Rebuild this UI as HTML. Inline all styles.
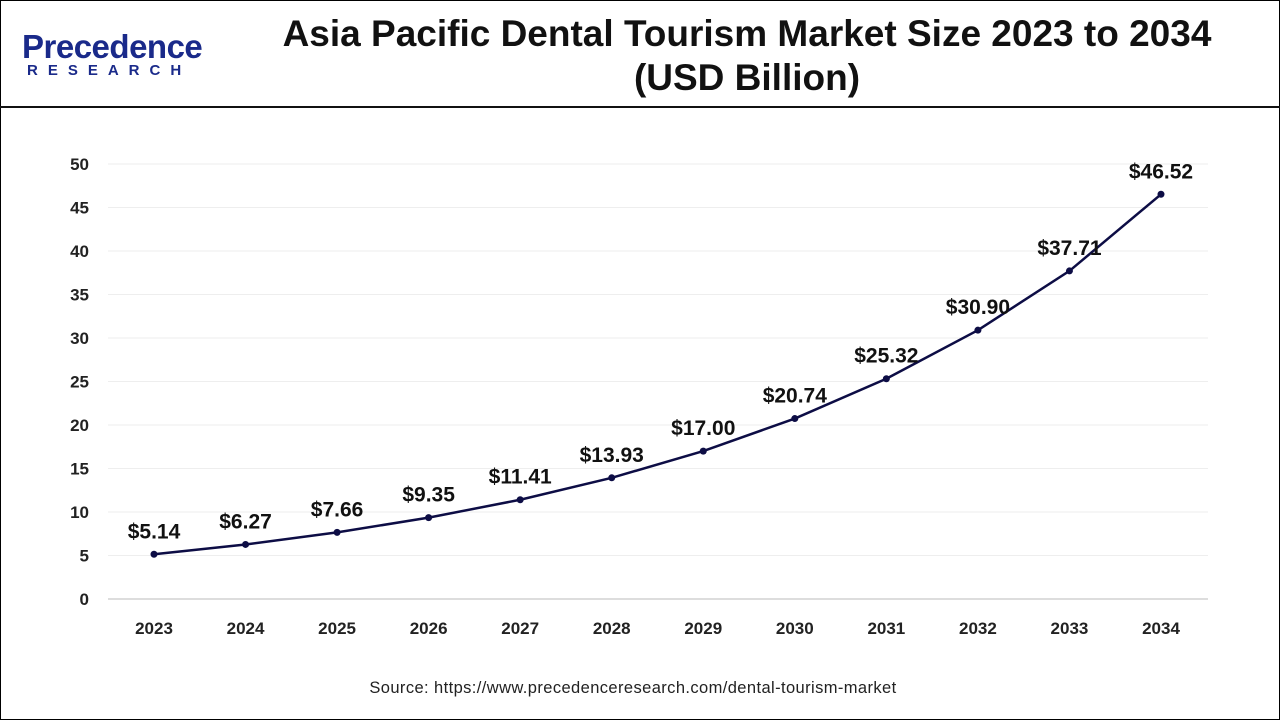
<!DOCTYPE html>
<html><head><meta charset="utf-8"><style>
body{margin:0;width:1280px;height:720px;overflow:hidden;background:#fff;font-family:"Liberation Sans",sans-serif}
#frame{position:absolute;left:0;top:0;width:1278px;height:718px;border:1px solid #000}
#hdr{position:absolute;left:0;top:106px;width:1280px;height:2px;background:#111}
#title{position:absolute;left:250px;width:994px;top:12px;text-align:center;font-weight:bold;font-size:37px;line-height:44px;color:#111}
#logo1{position:absolute;left:22px;top:28px;font-size:33px;font-weight:bold;color:#1a2a8a;letter-spacing:-0.5px}
#logo2{position:absolute;left:27px;top:62px;font-size:15px;font-weight:bold;color:#1a2a8a;letter-spacing:10px}
#src{position:absolute;left:0;width:1266px;top:679px;text-align:center;font-size:16.5px;letter-spacing:0.4px;color:#222}
</style></head><body>
<div id="frame"></div>
<div id="logo1">Precedence</div>
<div id="logo2">RESEARCH</div>
<div id="title">Asia Pacific Dental Tourism Market Size 2023 to 2034<br>(USD Billion)</div>
<div id="hdr"></div>
<svg id="chart" width="1280" height="720" style="position:absolute;left:0;top:0"></svg>
<div id="src">Source: https://www.precedenceresearch.com/dental-tourism-market</div>
<script>
const years=["2023","2024","2025","2026","2027","2028","2029","2030","2031","2032","2033","2034"];
const values=[5.14,6.27,7.66,9.35,11.41,13.93,17.00,20.74,25.32,30.90,37.71,46.52];
const yTicks=[0,5,10,15,20,25,30,35,40,45,50];
const svg=document.getElementById('chart');const NS='http://www.w3.org/2000/svg';
const x=i=>154+i*(1161-154)/(years.length-1);
const y=v=>599-v*(599-164)/50;
function mk(t,a){const e=document.createElementNS(NS,t);for(const k in a)e.setAttribute(k,a[k]);svg.appendChild(e);return e;}
yTicks.forEach(t=>{
 const g=mk('line',{x1:108,x2:1208,y1:y(t),y2:y(t),stroke:t===0?'#bbb':'#eee','stroke-width':1});
 
 
 const l=mk('text',{x:89,y:y(t)+6,'text-anchor':'end','font-size':17,'font-weight':'bold',fill:'#222'});l.textContent=t;
 
 
});
years.forEach((yr,i)=>{
 const l=mk('text',{x:x(i),y:634,'text-anchor':'middle','font-size':17,'font-weight':'bold',fill:'#222'});l.textContent=yr;
 
 
});
const p=mk('polyline',{points:values.map((v,i)=>x(i)+','+y(v)).join(' '),fill:'none',stroke:'#0d0d45','stroke-width':2.5});


values.forEach((v,i)=>{
 const c=mk('circle',{cx:x(i),cy:y(v),r:3.5,fill:'#0d0d45'});
 
 
 const t=mk('text',{x:x(i),y:y(v)-16,'text-anchor':'middle','font-size':21,'font-weight':'bold',fill:'#111'});t.textContent='$'+v.toFixed(2);
 
 
});
</script>
</body></html>
